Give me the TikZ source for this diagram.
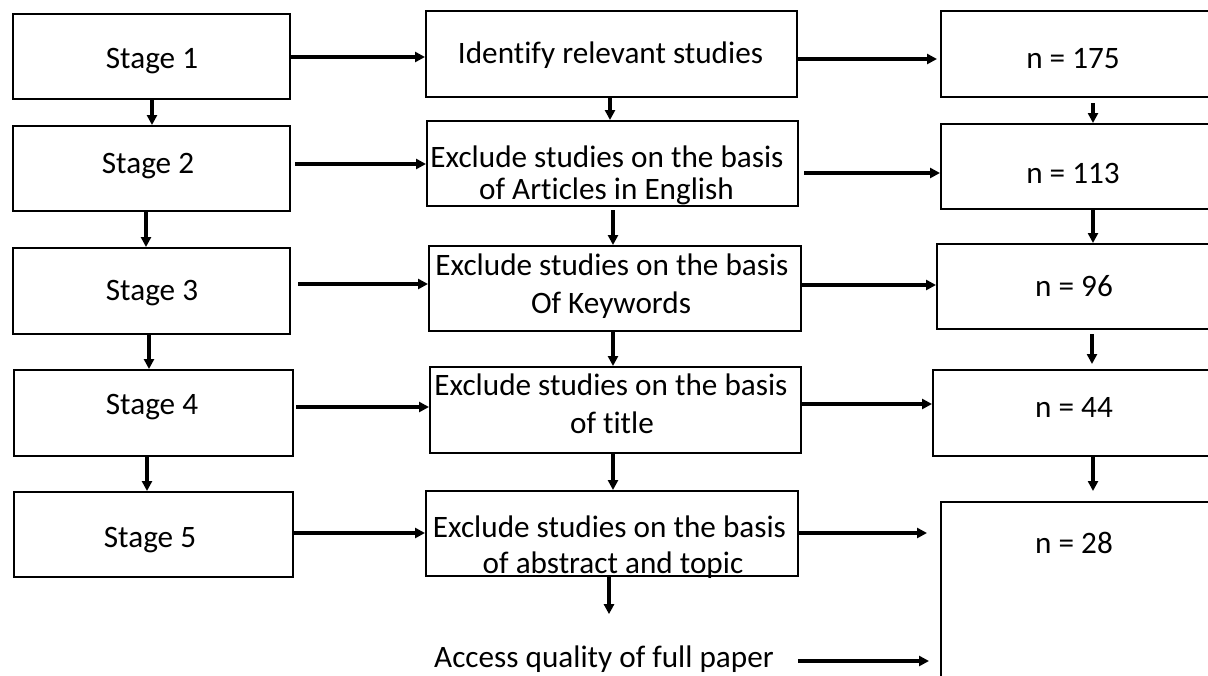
\documentclass[tikz,border=0pt]{standalone}
\usepackage{fontspec}
\setmainfont{Carlito}[Ligatures=NoCommon]
\usetikzlibrary{arrows.meta,calc}
\begin{document}
\begin{tikzpicture}[x=1pt,y=-1pt,
  box/.style={draw=black,line width=2pt,rectangle,inner sep=0pt,fill=none},
  lbl/.style={inner sep=0pt,anchor=base,font=\fontsize{31.2}{36}\selectfont},
  arr/.style={line width=3.2pt,-{Triangle[length=10pt,width=10pt]}}]
\useasboundingbox (0,0) rectangle (1208,675);
\fill[white] (0,0) rectangle (1208,675);
\clip (0,0) rectangle (1208,675);
% left column
\node[box,minimum width=277pt,minimum height=85pt] (s1) at (151.5,56.5) {};
\node[box,minimum width=277pt,minimum height=85pt] (s2) at (151.5,168.5) {};
\node[box,minimum width=277pt,minimum height=86pt] (s3) at (151.5,291) {};
\node[box,minimum width=279pt,minimum height=86pt] (s4) at (153.5,413) {};
\node[box,minimum width=279pt,minimum height=85pt] (s5) at (153.5,534.5) {};
\node[lbl] (t1) at (152,68) {Stage 1};
\node[lbl] (t2) at (148,173) {Stage 2};
\node[lbl] (t3) at (152,300) {Stage 3};
\node[lbl] (t4) at (152,414) {Stage 4};
\node[lbl] (t5) at (150,547) {Stage 5};
% middle column
\node[box,minimum width=371pt,minimum height=86pt] (m1) at (611.5,54) {};
\node[box,minimum width=371pt,minimum height=85pt] (m2) at (612.5,163.5) {};
\node[box,minimum width=372pt,minimum height=85pt] (m3) at (615,288.5) {};
\node[box,minimum width=371pt,minimum height=86pt] (m4) at (615.5,410) {};
\node[box,minimum width=372pt,minimum height=85pt] (m5) at (612,533.5) {};
\node[lbl] (u1) at (610.5,63) {Identify relevant studies};
\node[lbl] (u2a) at (607,167) {Exclude studies on the basis};
\node[lbl] (u2b) at (606.5,199) {of Articles in English};
\node[lbl] (u3a) at (612,275) {Exclude studies on the basis};
\node[lbl] (u3b) at (611,313) {Of Keywords};
\node[lbl] (u4a) at (611,395) {Exclude studies on the basis};
\node[lbl] (u4b) at (612,433) {of title};
\node[lbl] (u5a) at (609.5,537) {Exclude studies on the basis};
\node[lbl] (u5b) at (613,573) {of abstract and topic};
\node[lbl] (acc) at (604,667) {Access quality of full paper};
% right column
\node[box,minimum width=304pt,minimum height=86pt] (r1) at (1093,54) {};
\node[box,minimum width=304pt,minimum height=85pt] (r2) at (1093,166.5) {};
\node[box,minimum width=308pt,minimum height=85pt] (r3) at (1091,286.5) {};
\node[box,minimum width=312pt,minimum height=86pt] (r4) at (1089,413) {};
\node[box,minimum width=304pt,minimum height=258pt] (r5) at (1093,631) {};
\node[lbl] (n1) at (1073,68) {n = 175};
\node[lbl] (n2) at (1073,183) {n = 113};
\node[lbl] (n3) at (1074,296) {n = 96};
\node[lbl] (n4) at (1074,417) {n = 44};
\node[lbl] (n5) at (1074,553) {n = 28};
% left vertical arrows
\draw[arr] (s1.south -| 152,0) -- (s2.north -| 152,0);
\draw[arr] (s2.south -| 146,0) -- (s3.north -| 146,0);
\draw[arr] (s3.south -| 149,0) -- (s4.north -| 149,0);
\draw[arr] (s4.south -| 147,0) -- (s5.north -| 147,0);
% middle vertical arrows
\draw[arr] (m1.south -| 610,0) -- (m2.north -| 610,0);
\draw[arr,shorten <=3pt] (m2.south -| 613,0) -- (m3.north -| 613,0);
\draw[arr] (m3.south -| 613,0) -- (m4.north -| 613,0);
\draw[arr] (m4.south -| 613,0) -- (m5.north -| 613,0);
\draw[arr,shorten >=31pt] (m5.south -| 609,0) -- (acc.north -| 609,0);
% right vertical arrows
\draw[arr,shorten <=5pt] (r1.south -| 1093,0) -- (r2.north -| 1093,0);
\draw[arr] (r2.south -| 1093,0) -- (r3.north -| 1093,0);
\draw[arr,shorten <=4pt,shorten >=5pt] (r3.south -| 1092,0) -- (r4.north -| 1092,0);
\draw[arr,shorten >=10pt] (r4.south -| 1093,0) -- (r5.north -| 1093,0);
% horizontal arrows left -> middle
\draw[arr] (s1.east |- 0,57) -- (m1.west |- 0,57);
\draw[arr,shorten <=4pt] (s2.east |- 0,164) -- (m2.west |- 0,164);
\draw[arr,shorten <=7pt] (s3.east |- 0,284) -- (m3.west |- 0,284);
\draw[arr,shorten <=2pt] (s4.east |- 0,407) -- (m4.west |- 0,407);
\draw[arr] (s5.east |- 0,533) -- (m5.west |- 0,533);
% horizontal arrows middle -> right
\draw[arr,shorten >=3pt] (m1.east |- 0,59) -- (r1.west |- 0,59);
\draw[arr,shorten <=5pt] (m2.east |- 0,173) -- (r2.west |- 0,173);
\draw[arr] (m3.east |- 0,285) -- (r3.west |- 0,285);
\draw[arr] (m4.east |- 0,404) -- (r4.west |- 0,404);
\draw[arr,shorten >=13pt] (m5.east |- 0,533) -- (r5.west |- 0,533);
\draw[arr,shorten <=24pt,shorten >=11pt] (acc.east |- 0,661) -- (r5.west |- 0,661);
\end{tikzpicture}
\end{document}
